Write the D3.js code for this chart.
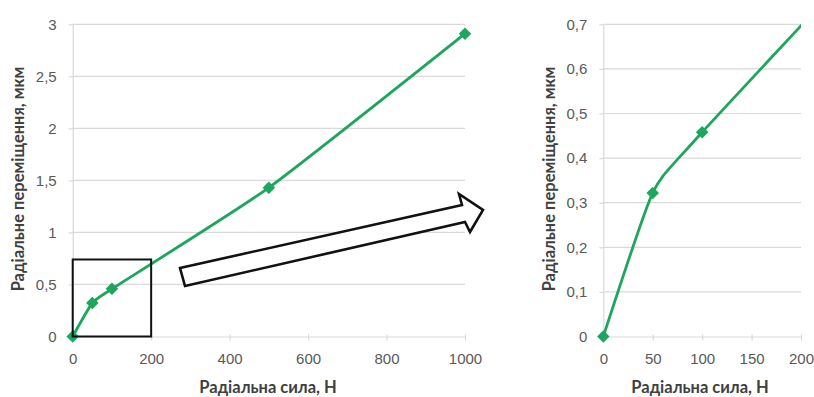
<!DOCTYPE html>
<html>
<head>
<meta charset="utf-8">
<script src="https://cdn.jsdelivr.net/npm/d3@7"></script>
<style>
  html, body { margin: 0; padding: 0; background: #fff; }
  svg { display: block; font-family: Lato, "Open Sans", sans-serif; }
</style>
</head>
<body>
<svg id="chart" width="814" height="397"></svg>
<script>
// Radial force (N) and radial displacement (µm)
const force = [0, 50, 100, 500, 1000];
const displacement = [0, 0.322, 0.458, 1.43, 2.91];

// Tick values for the full-range and zoomed panels
const mainXTicks = [0, 200, 400, 600, 800, 1000];
const mainYTicks = [0, 0.5, 1, 1.5, 2, 2.5, 3];
const zoomXTicks = [0, 50, 100, 150, 200];
const zoomYTicks = [0, 0.1, 0.2, 0.3, 0.4, 0.5, 0.6, 0.7];

// Highlighted region on the main panel
const boxForce = [0, 200];
const boxDisp = [0, 0.74];

const xTitle = "Радіальна сила, Н";
const yTitle = "Радіальне переміщення, мкм";

const green = "#1ea75c";
const gridColor = "#d9d9d9";
const labelColor = "#595959";

const svg = d3.select("#chart");
const points = force.map((f, i) => ({ f, d: displacement[i] }));
const fmt = v => String(v).replace(".", ",");

function panel(opts) {
  const { id, left, right, top, bottom, xDomain, yDomain, xTicks, yTicks, titleX, titleYX, titleXY } = opts;
  const x = d3.scaleLinear().domain(xDomain).range([left, right]);
  const y = d3.scaleLinear().domain(yDomain).range([bottom, top]);
  const g = svg.append("g");

  // horizontal gridlines
  g.append("g").selectAll("line").data(yTicks.filter(v => v !== 0)).join("line")
    .attr("x1", left).attr("x2", right)
    .attr("y1", d => y(d)).attr("y2", d => y(d))
    .attr("stroke", gridColor).attr("stroke-width", 1.2);

  // x axis
  const xAxis = g.append("g").attr("transform", `translate(0,${bottom})`)
    .call(d3.axisBottom(x).tickValues(xTicks).tickFormat(fmt).tickSizeInner(4).tickSizeOuter(0).tickPadding(13));
  xAxis.select(".domain").attr("stroke", gridColor).attr("stroke-width", 1.2);
  xAxis.selectAll(".tick line").attr("stroke", gridColor).attr("stroke-width", 1.2).attr("y1", -2);
  xAxis.selectAll(".tick text").attr("fill", labelColor).attr("font-size", 15);

  // y axis
  const yAxis = g.append("g").attr("transform", `translate(${left},0)`)
    .call(d3.axisLeft(y).tickValues(yTicks).tickFormat(fmt).tickSizeInner(4).tickSizeOuter(0).tickPadding(12));
  yAxis.select(".domain").attr("stroke", gridColor).attr("stroke-width", 1.2);
  yAxis.selectAll(".tick line").attr("stroke", gridColor).attr("stroke-width", 1.2);
  yAxis.selectAll(".tick text").attr("fill", labelColor).attr("font-size", 15);

  // clip to plot area
  svg.append("defs").append("clipPath").attr("id", id)
    .append("rect").attr("x", left).attr("y", top - 10)
    .attr("width", right - left).attr("height", bottom - top + 20);

  const line = d3.line().x(d => x(d.f)).y(d => y(d.d)).curve(d3.curveCardinal.tension(0.5));
  g.append("path").datum(points)
    .attr("clip-path", `url(#${id})`)
    .attr("d", line).attr("fill", "none")
    .attr("stroke", green).attr("stroke-width", 2.8);

  const visible = points.filter(p => p.f >= xDomain[0] && p.f <= xDomain[1] && p.d <= yDomain[1]);
  g.append("g").selectAll("path").data(visible).join("path")
    .attr("transform", d => `translate(${x(d.f)},${y(d.d)})`)
    .attr("d", d3.symbol().type(d3.symbolDiamond2).size(100))
    .attr("fill", green);

  // axis titles
  g.append("text").attr("x", titleX).attr("y", 393)
    .attr("text-anchor", "middle").attr("font-weight", "bold")
    .attr("font-size", 16.5).attr("fill", "#404040").text(xTitle);
  g.append("text").attr("transform", `translate(${titleYX},${titleXY}) rotate(-90)`)
    .attr("text-anchor", "middle").attr("font-weight", "bold")
    .attr("font-size", 16.5).attr("fill", "#404040").text(yTitle);

  return { x, y, g };
}

const main = panel({
  id: "clipMain", left: 72.7, right: 465, top: 24.3, bottom: 336.5,
  xDomain: [0, 1000], yDomain: [0, 3], xTicks: mainXTicks, yTicks: mainYTicks,
  titleX: 268, titleYX: 24, titleXY: 179
});

panel({
  id: "clipZoom", left: 603.3, right: 801, top: 24.3, bottom: 336.5,
  xDomain: [0, 200], yDomain: [0, 0.7], xTicks: zoomXTicks, yTicks: zoomYTicks,
  titleX: 700, titleYX: 555, titleXY: 179
});

// highlighted zoom region
main.g.append("rect")
  .attr("x", main.x(boxForce[0])).attr("y", main.y(boxDisp[1]))
  .attr("width", main.x(boxForce[1]) - main.x(boxForce[0]))
  .attr("height", main.y(boxDisp[0]) - main.y(boxDisp[1]))
  .attr("fill", "none").attr("stroke", "#111").attr("stroke-width", 2);

// hollow block arrow pointing to the zoomed panel
const arrow = [[180, 268], [462, 205], [459, 194], [483, 210], [470, 232], [465, 222], [185, 286]];
svg.append("path")
  .attr("d", d3.line()(arrow) + "Z")
  .attr("fill", "#fff").attr("stroke", "#111").attr("stroke-width", 2.6)
  .attr("stroke-linejoin", "miter");
</script>
</body>
</html>
